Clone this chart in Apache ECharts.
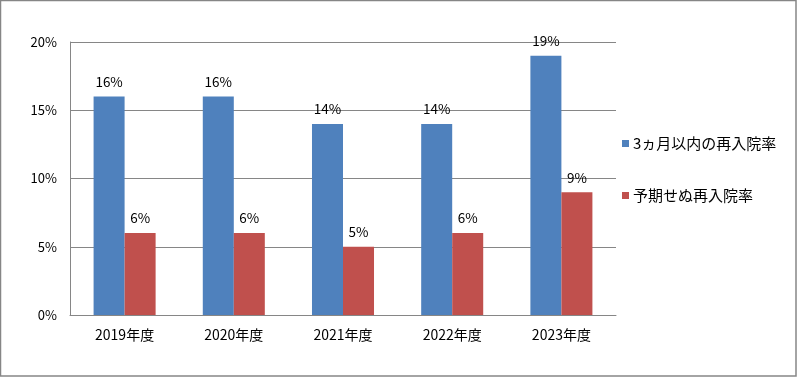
<!DOCTYPE html>
<html><head><meta charset="utf-8">
<script src="https://cdn.jsdelivr.net/npm/echarts@6/dist/echarts.min.js"></script>
<style>html,body{margin:0;padding:0;background:#fff}#c{width:797px;height:377px}</style>
</head><body><div id="c"></div>
<script>
var categories = ['2019年度','2020年度','2021年度','2022年度','2023年度'];
var seriesNames = ['3ヵ月以内の再入院率','予期せぬ再入院率'];
var readmit3m = [16,16,14,14,19];
var unexpected = [6,6,5,6,9];
var yTicks = [0,5,10,15,20];

var font = "'Noto Sans CJK JP', 'Noto Sans', sans-serif";
var chart = echarts.init(document.getElementById('c'), null, {renderer:'canvas'});
chart.setOption({
  animation:false,
  backgroundColor:'#fff',
  textStyle:{fontFamily:font},
  graphic:[{type:'rect',shape:{x:0.5,y:0.5,width:795.5,height:375.5},style:{fill:'none',stroke:'#868686',lineWidth:1.5},silent:true}],
  grid:{left:70,right:181,top:42,bottom:62},
  legend:{orient:'vertical',left:617,top:131,itemGap:37,itemWidth:7,itemHeight:7,icon:'rect',
    textStyle:{fontSize:15,color:'#000',fontFamily:font,padding:[0,0,0,-1]},data:seriesNames},
  xAxis:{type:'category',data:categories,axisTick:{show:false},
    axisLine:{lineStyle:{color:'#868686',width:1}},
    axisLabel:{color:'#000',fontSize:14,margin:13,fontFamily:font}},
  yAxis:{type:'value',min:0,max:20,interval:5,
    axisLine:{show:true,lineStyle:{color:'#868686'}},axisTick:{show:false},
    splitLine:{lineStyle:{color:'#868686',width:1}},
    axisLabel:{color:'#000',fontSize:13,margin:13,formatter:'{value}%',fontFamily:font}},
  series:[
    {name:seriesNames[0],type:'bar',data:readmit3m,barWidth:'28.4%',barGap:'0%',itemStyle:{color:'#4f81bd'},
     label:{show:true,position:'top',distance:8,formatter:'{c}%',color:'#000',fontSize:13.5,fontFamily:font}},
    {name:seriesNames[1],type:'bar',data:unexpected,barWidth:'28.4%',barGap:'0%',itemStyle:{color:'#c0504d'},
     label:{show:true,position:'top',distance:8,formatter:'{c}%',color:'#000',fontSize:13.5,fontFamily:font}}
  ]
});
</script></body></html>
